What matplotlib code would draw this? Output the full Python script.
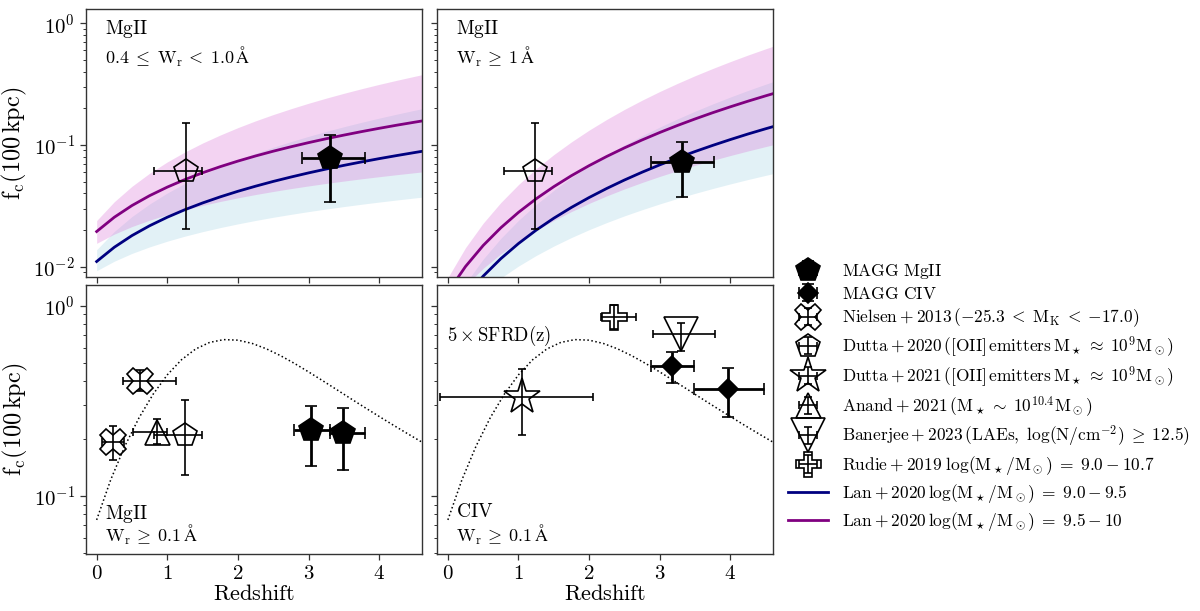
import numpy as np
import matplotlib
matplotlib.use('Agg')
import matplotlib.pyplot as plt
from matplotlib.ticker import NullFormatter

plt.rcParams.update({
    'font.family': 'serif',
    'font.serif': ['cmr10', 'DejaVu Serif'],
    'mathtext.fontset': 'cm',
    'axes.formatter.use_mathtext': True,
    'axes.unicode_minus': False,
})

# ---------------- data ----------------
# Lan+2020 model curves on a redshift grid
lan_z = [0, 0.25, 0.5, 0.75, 1.0, 1.25, 1.5, 1.75, 2.0, 2.25, 2.5, 2.75, 3.0, 3.25,
         3.5, 3.75, 4.0, 4.25, 4.5, 4.6]
# top-left panel (0.4 <= Wr < 1.0)
tl_lo_mid = [0.0110, 0.01441, 0.01797, 0.02165, 0.02544, 0.02935, 0.03333, 0.03741, 0.04157, 0.04578,
             0.05010, 0.05443, 0.05888, 0.06334, 0.06789, 0.07248, 0.07713, 0.08178, 0.08653, 0.08845]
tl_lo_up = [0.01375, 0.01943, 0.02576, 0.03269, 0.04021, 0.04827, 0.05680, 0.06582, 0.07534, 0.08526,
            0.09565, 0.1064, 0.1176, 0.1292, 0.1411, 0.1534, 0.1661, 0.1791, 0.1926, 0.1980]
tl_lo_dn = [0.00924, 0.01106, 0.01282, 0.01451, 0.01616, 0.01778, 0.01936, 0.02091, 0.02243, 0.02393,
            0.02542, 0.02686, 0.02830, 0.02972, 0.03112, 0.03252, 0.03390, 0.03526, 0.03662, 0.03715]
tl_hi_mid = [0.0194, 0.02543, 0.03173, 0.03826, 0.04498, 0.05192, 0.05902, 0.06625, 0.07362, 0.08113,
             0.08878, 0.09652, 0.1044, 0.1124, 0.1204, 0.1286, 0.1369, 0.1453, 0.1537, 0.1571]
tl_hi_up = [0.02386, 0.03412, 0.04568, 0.05850, 0.07244, 0.08751, 0.1036, 0.1206, 0.1387, 0.1577,
            0.1776, 0.1983, 0.2200, 0.2424, 0.2656, 0.2896, 0.3145, 0.3400, 0.3663, 0.3771]
tl_hi_dn = [0.01552, 0.01848, 0.02132, 0.02406, 0.02671, 0.02931, 0.03182, 0.03429, 0.03671, 0.03910,
            0.04143, 0.04373, 0.04600, 0.04826, 0.05044, 0.05265, 0.05479, 0.05693, 0.05904, 0.05990]
# top-right panel (Wr >= 1)
tr_lo_mid = [0.00349, 0.00564, 0.00834, 0.01161, 0.01546, 0.01991, 0.02496, 0.03063, 0.03692, 0.04385,
             0.05142, 0.05962, 0.06850, 0.07802, 0.08819, 0.09906, 0.1106, 0.1229, 0.1357, 0.1410]
tr_lo_up = [0.00410, 0.00724, 0.01152, 0.01705, 0.02396, 0.03237, 0.04231, 0.05394, 0.06731, 0.08253,
            0.09972, 0.1189, 0.1401, 0.1635, 0.1891, 0.2171, 0.2474, 0.2802, 0.3154, 0.3302]
tr_lo_dn = [0.00311, 0.00454, 0.00619, 0.00804, 0.01009, 0.01232, 0.01473, 0.01732, 0.02008, 0.02299,
            0.02609, 0.02931, 0.03271, 0.03627, 0.03995, 0.04378, 0.04777, 0.05192, 0.05616, 0.05790]
tr_hi_mid = [0.00616, 0.01001, 0.01490, 0.02084, 0.02789, 0.03606, 0.04535, 0.05585, 0.06752, 0.08038,
             0.09449, 0.1098, 0.1264, 0.1443, 0.1634, 0.1839, 0.2056, 0.2287, 0.2531, 0.2632]
tr_hi_up = [0.00811, 0.01430, 0.02273, 0.03361, 0.04719, 0.06365, 0.08318, 0.1059, 0.1322, 0.1620,
            0.1956, 0.2330, 0.2746, 0.3201, 0.3703, 0.4246, 0.4839, 0.5478, 0.6164, 0.6452]
tr_hi_dn = [0.00471, 0.00700, 0.00967, 0.01271, 0.01611, 0.01985, 0.02392, 0.02832, 0.03305, 0.03810,
            0.04344, 0.04909, 0.05505, 0.06130, 0.06783, 0.07465, 0.08177, 0.08916, 0.09685, 0.09998]

# 5 x SFRD(z) curve
sfrd_z = [0, 0.2, 0.4, 0.6, 0.8, 1.0, 1.2, 1.4, 1.6, 1.8, 2.0, 2.2, 2.4, 2.6, 2.8, 3.0,
          3.2, 3.4, 3.6, 3.8, 4.0, 4.2, 4.4, 4.6]
sfrd_5x = [0.0748, 0.1218, 0.1830, 0.2576, 0.3430, 0.4333, 0.5198, 0.5921, 0.6418, 0.6637,
           0.6593, 0.6338, 0.5941, 0.5470, 0.4974, 0.4488, 0.4033, 0.3617, 0.3241, 0.2909,
           0.2615, 0.2354, 0.2125, 0.1922]

# measurements: z, z_low, z_high, f, f_low, f_high
tl_magg = dict(z=[3.30], zl=[2.90], zh=[3.80], f=[0.078], fl=[0.034], fh=[0.121])
tl_dut20 = dict(z=[1.26], zl=[0.81], zh=[1.49], f=[0.0615], fl=[0.0203], fh=[0.152])
tr_magg = dict(z=[3.31], zl=[2.88], zh=[3.77], f=[0.072], fl=[0.037], fh=[0.106])
tr_dut20 = dict(z=[1.24], zl=[0.80], zh=[1.48], f=[0.0615], fl=[0.0203], fh=[0.152])
bl_niel = dict(z=[0.23, 0.61], zl=[0.07, 0.37], zh=[0.39, 1.12], f=[0.192, 0.40], fl=[0.155, 0.355], fh=[0.234, 0.46])
bl_anand = dict(z=[0.85], zl=[0.51], zh=[0.99], f=[0.218], fl=[0.187], fh=[0.253])
bl_dut20 = dict(z=[1.25], zl=[0.81], zh=[1.49], f=[0.21], fl=[0.129], fh=[0.318])
bl_magg = dict(z=[3.04, 3.49], zl=[2.80, 3.30], zh=[3.30, 3.80], f=[0.221, 0.214], fl=[0.143, 0.137], fh=[0.298, 0.289])
br_magg = dict(z=[3.18, 3.97], zl=[2.88, 3.48], zh=[3.48, 4.48], f=[0.483, 0.365], fl=[0.392, 0.261], fh=[0.57, 0.473])
br_dut21 = dict(z=[1.05], zl=[-0.11], zh=[2.05], f=[0.331], fl=[0.209], fh=[0.465])
br_baner = dict(z=[3.30], zl=[2.90], zh=[3.78], f=[0.71], fl=[0.58], fh=[0.81])
br_rudie = dict(z=[2.35], zl=[2.17], zh=[2.67], f=[0.872], fl=[0.753], fh=[1.01])

labels = {
    'magg_mg': r'$\mathrm{MAGG\ MgII}$',
    'magg_civ': r'$\mathrm{MAGG\ CIV}$',
    'niel': r'$\mathrm{Nielsen}+2013\,({-25.3}\;<\;\mathrm{M_K}\;<\;{-17.0})$',
    'dut20': r'$\mathrm{Dutta}+2020\,(\mathrm{[OII]\,emitters}\,\mathrm{M_\star}\,\approx\;10^9\mathrm{M_\odot})$',
    'dut21': r'$\mathrm{Dutta}+2021\,(\mathrm{[OII]\,emitters}\,\mathrm{M_\star}\,\approx\;10^9\mathrm{M_\odot})$',
    'anand': r'$\mathrm{Anand}+2021\,(\mathrm{M_\star}\,\sim\;10^{10.4}\mathrm{M_\odot})$',
    'baner': r'$\mathrm{Banerjee}+2023\,(\mathrm{LAEs,}\ \log(\mathrm{N/cm^{-2}})\;\geq\;12.5)$',
    'rudie': r'$\mathrm{Rudie}+2019\ \log(\mathrm{M_\star/M_\odot})\;=\;9.0-10.7$',
    'lan1': r'$\mathrm{Lan}+2020\,\log(\mathrm{M_\star/M_\odot})\;=\;9.0-9.5$',
    'lan2': r'$\mathrm{Lan}+2020\,\log(\mathrm{M_\star/M_\odot})\;=\;9.5-10$',
}

# ---------------- figure ----------------
fig = plt.figure(figsize=(12, 6.11), dpi=100)
ax_tl = fig.add_axes([0.0717, 0.5466, 0.2797, 0.4387])
ax_tr = fig.add_axes([0.3644, 0.5466, 0.2795, 0.4387])
ax_bl = fig.add_axes([0.0717, 0.0933, 0.2797, 0.4407])
ax_br = fig.add_axes([0.3644, 0.0933, 0.2795, 0.4407])

handles = {}


def eb(ax, d, marker, ms, filled, key, lw=1.2, cs=3, zo=5):
    z = np.array(d['z']); f = np.array(d['f'])
    xerr = [z - np.array(d['zl']), np.array(d['zh']) - z]
    yerr = [f - np.array(d['fl']), np.array(d['fh']) - f]
    h = ax.errorbar(z, f, xerr=xerr, yerr=yerr, fmt=marker, ms=ms,
                    mfc='k' if filled else 'none', mec='k', mew=1.2,
                    ecolor='k', elinewidth=lw, capsize=cs, capthick=lw,
                    zorder=zo)
    handles.setdefault(key, h)
    return h


def lan(ax, mid_lo, up_lo, dn_lo, mid_hi, up_hi, dn_hi):
    ax.fill_between(lan_z, dn_lo, up_lo, color='lightblue', alpha=0.35, lw=0, zorder=1)
    ax.fill_between(lan_z, dn_hi, up_hi, color='orchid', alpha=0.3, lw=0, zorder=1)
    l1, = ax.plot(lan_z, mid_lo, color='navy', lw=2, zorder=2)
    l2, = ax.plot(lan_z, mid_hi, color='purple', lw=2, zorder=2)
    handles.setdefault('lan1', l1)
    handles.setdefault('lan2', l2)


lan(ax_tl, tl_lo_mid, tl_lo_up, tl_lo_dn, tl_hi_mid, tl_hi_up, tl_hi_dn)
lan(ax_tr, tr_lo_mid, tr_lo_up, tr_lo_dn, tr_hi_mid, tr_hi_up, tr_hi_dn)

eb(ax_tl, tl_dut20, 'p', 18, False, 'dut20')
eb(ax_tl, tl_magg, 'p', 18, True, 'magg_mg', lw=2, cs=4, zo=6)
eb(ax_tr, tr_dut20, 'p', 18, False, 'dut20')
eb(ax_tr, tr_magg, 'p', 18, True, 'magg_mg', lw=2, cs=4, zo=6)

for ax in (ax_bl, ax_br):
    ax.plot(sfrd_z, sfrd_5x, color='k', ls=':', lw=1.1, zorder=1)

eb(ax_bl, bl_niel, 'X', 19, False, 'niel')
eb(ax_bl, bl_anand, '^', 18, False, 'anand')
eb(ax_bl, bl_dut20, 'p', 18, False, 'dut20')
eb(ax_bl, bl_magg, 'p', 18, True, 'magg_mg', lw=2, cs=4, zo=6)

eb(ax_br, br_dut21, '*', 27, False, 'dut21')
eb(ax_br, br_baner, 'v', 25, False, 'baner')
eb(ax_br, br_rudie, 'P', 18, False, 'rudie')
eb(ax_br, br_magg, 'D', 10, True, 'magg_civ', lw=2, cs=4, zo=6)

for ax in (ax_tl, ax_tr, ax_bl, ax_br):
    ax.set_yscale('log')
    ax.set_xlim(-0.15, 4.6)
    ax.set_xticks([0, 1, 2, 3, 4])
    ax.tick_params(axis='both', which='both', direction='out', labelsize=15, color='0.2')
    ax.tick_params(which='major', length=4.5, width=0.9)
    ax.tick_params(which='minor', length=2.5, width=0.7)
    ax.yaxis.set_minor_formatter(NullFormatter())
    for s in ax.spines.values():
        s.set_color('0.2')
        s.set_linewidth(1.0)

for ax in (ax_tl, ax_tr):
    ax.set_ylim(0.0082, 1.31)
    ax.tick_params(labelbottom=False)
for ax in (ax_bl, ax_br):
    ax.set_ylim(0.0495, 1.29)
    ax.set_xlabel(r'$\mathrm{Redshift}$', fontsize=16, labelpad=1)
for ax in (ax_tr, ax_br):
    ax.tick_params(labelleft=False)
for ax in (ax_tl, ax_bl):
    ax.set_ylabel(r'$\mathrm{f_c(100\,kpc)}$', fontsize=17.5, labelpad=3)

fs = 14
ax_tl.text(0.057, 0.965, r'$\mathrm{MgII}$', transform=ax_tl.transAxes, fontsize=fs, va='top')
ax_tl.text(0.057, 0.865, r'$0.4\;\leq\;\mathrm{W_r}\,<\;1.0\,\mathrm{Å}$', transform=ax_tl.transAxes, fontsize=fs - 1, va='top')
ax_tr.text(0.057, 0.965, r'$\mathrm{MgII}$', transform=ax_tr.transAxes, fontsize=fs, va='top')
ax_tr.text(0.057, 0.865, r'$\mathrm{W_r}\,\geq\;1\,\mathrm{Å}$', transform=ax_tr.transAxes, fontsize=fs - 1, va='top')
ax_bl.text(0.057, 0.19, r'$\mathrm{MgII}$', transform=ax_bl.transAxes, fontsize=fs, va='top')
ax_bl.text(0.057, 0.115, r'$\mathrm{W_r}\,\geq\;0.1\,\mathrm{Å}$', transform=ax_bl.transAxes, fontsize=fs - 1, va='top')
ax_br.text(0.057, 0.19, r'$\mathrm{CIV}$', transform=ax_br.transAxes, fontsize=fs, va='top')
ax_br.text(0.057, 0.115, r'$\mathrm{W_r}\,\geq\;0.1\,\mathrm{Å}$', transform=ax_br.transAxes, fontsize=fs - 1, va='top')
ax_br.text(0.03, 0.81, r'$5\times\mathrm{SFRD(z)}$', transform=ax_br.transAxes, fontsize=13.5, va='center')

order = ['magg_mg', 'magg_civ', 'niel', 'dut20', 'dut21', 'anand', 'baner', 'rudie', 'lan1', 'lan2']
fig.legend([handles[k] for k in order], [labels[k] for k in order],
           loc='upper left', bbox_to_anchor=(0.6567, 0.5712), frameon=False,
           fontsize=12.5, borderpad=0, borderaxespad=0, handlelength=2.3,
           handletextpad=0.8, labelspacing=0.28, numpoints=1)

fig.savefig('out.png', dpi=100)
